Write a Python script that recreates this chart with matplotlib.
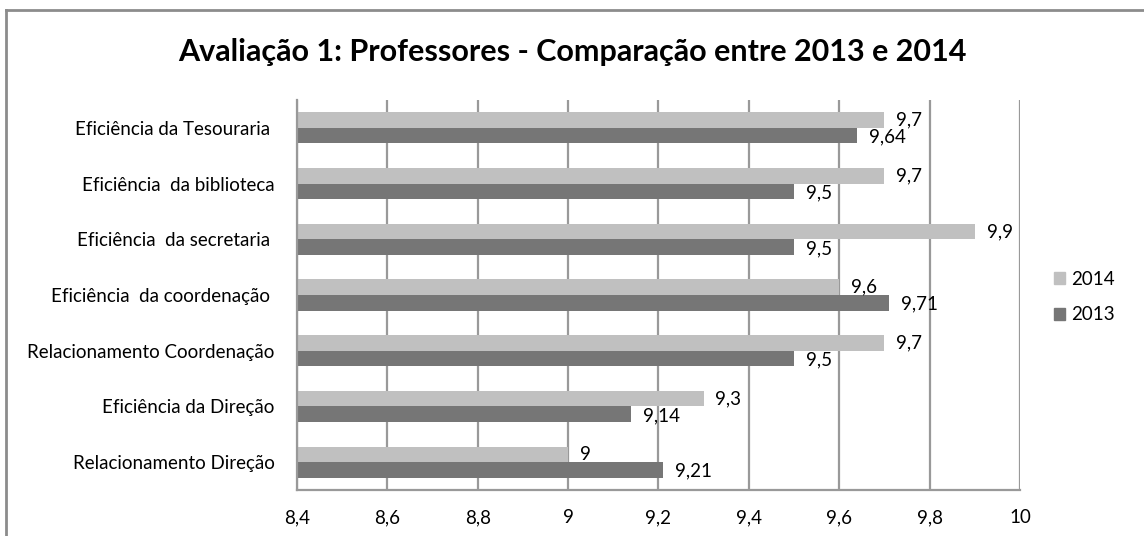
import matplotlib.pyplot as plt
import numpy as np
from matplotlib.lines import Line2D
from matplotlib.patches import Patch

plt.rcParams['font.family'] = ['Lato', 'DejaVu Sans']

categorias = ['Relacionamento Direção', 'Eficiência da Direção', 'Relacionamento Coordenação',
              'Eficiência  da coordenação ', 'Eficiência  da secretaria ', 'Eficiência  da biblioteca',
              'Eficiência da Tesouraria ']
v2014 = [9.0, 9.3, 9.7, 9.6, 9.9, 9.7, 9.7]
v2013 = [9.21, 9.14, 9.5, 9.71, 9.5, 9.5, 9.64]
rot2014 = ['9', '9,3', '9,7', '9,6', '9,9', '9,7', '9,7']
rot2013 = ['9,21', '9,14', '9,5', '9,71', '9,5', '9,5', '9,64']
xticks = [8.4, 8.6, 8.8, 9.0, 9.2, 9.4, 9.6, 9.8, 10.0]
xtick_labels = ['8,4', '8,6', '8,8', '9', '9,2', '9,4', '9,6', '9,8', '10']

c14, c13 = '#c0c0c0', '#767676'
grid_c = '#999999'
fs = 13.5

fig = plt.figure(figsize=(11.44, 5.36), dpi=100)
ax = fig.add_axes([297/1144, 46/536, (1020-297)/1144, 390/536])

y = np.arange(len(categorias))
h = 0.28
ax.barh(y + h/2, np.array(v2014) - 8.4, left=8.4, height=h, color=c14, zorder=3)
ax.barh(y - h/2, np.array(v2013) - 8.4, left=8.4, height=h, color=c13, zorder=3)

for yi, v, t in zip(y, v2014, rot2014):
    ax.annotate(t, (v, yi + h/2), xytext=(8.5, 0), textcoords='offset points',
                ha='left', va='center', fontsize=fs)
for yi, v, t in zip(y, v2013, rot2013):
    ax.annotate(t, (v, yi - h/2), xytext=(8.5, -1), textcoords='offset points',
                ha='left', va='center', fontsize=fs)

ax.set_xlim(8.4, 10)
ax.set_ylim(-0.5, len(categorias) - 0.5)
ax.set_xticks(xticks)
ax.set_xticklabels(xtick_labels, fontsize=fs)
ax.set_yticks(y)
ax.set_yticklabels(categorias, fontsize=fs)
ax.tick_params(axis='x', length=0, pad=14)
ax.tick_params(axis='y', length=0, pad=16)
ax.grid(axis='x', color=grid_c, linewidth=1.6, zorder=0)
for s in ['top', 'right']:
    ax.spines[s].set_visible(False)
for s in ['left', 'bottom']:
    ax.spines[s].set_color(grid_c)
    ax.spines[s].set_linewidth(1.6)
    ax.spines[s].set_zorder(4)

handles = [Patch(color=c14, label='2014'), Patch(color=c13, label='2013')]
fig.legend(handles=handles, loc='center left', bbox_to_anchor=(1037/1144, 1 - 297/536),
           frameon=False, fontsize=fs, handlelength=0.6, handleheight=0.6,
           handletextpad=0.3, labelspacing=1.0)

fig.text(0.5, 1 - 52/536, 'Avaliação 1: Professores - Comparação entre 2013 e 2014',
         ha='center', va='center', fontsize=22, fontweight='bold')

# moldura do gráfico (só topo e esquerda aparecem no recorte)
fig.add_artist(Line2D([6/1144, 6/1144], [0, 1 - 10/536], color='#8c8c8c', lw=2))
fig.add_artist(Line2D([6/1144, 1], [1 - 10/536, 1 - 10/536], color='#8c8c8c', lw=2))

fig.savefig('out.png', dpi=100)
